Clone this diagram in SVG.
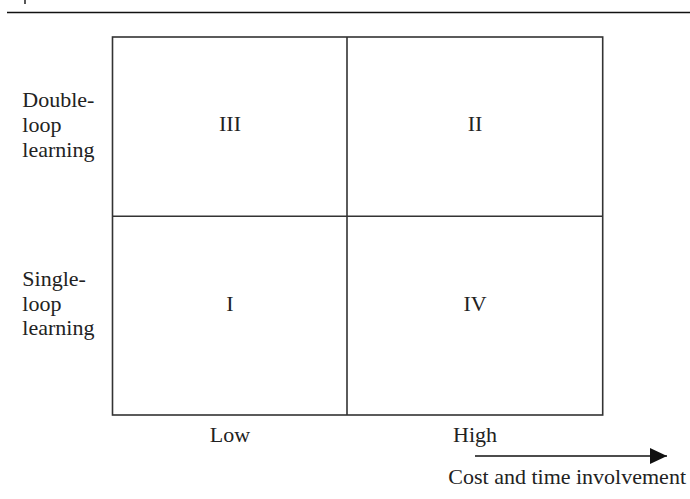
<svg xmlns="http://www.w3.org/2000/svg" width="690" height="499" viewBox="0 0 690 499">
<style>
.t{font-family:"Liberation Serif","Times New Roman",serif;font-size:22px;fill:#222}
.c{text-anchor:middle}
.ln{stroke:#333;stroke-width:1.6;fill:none}
</style>
<defs>
<marker id="ah" viewBox="0 0 17 16" refX="17" refY="8" markerWidth="17" markerHeight="16" markerUnits="userSpaceOnUse" orient="auto">
<path d="M0,0 L17,8 L0,16 Z" fill="#111"/>
</marker>
</defs>
<rect width="690" height="499" fill="#fff"/>
<line x1="7" y1="12.5" x2="690" y2="12.5" stroke="#111" stroke-width="1.4"/>
<line x1="25" y1="0" x2="25" y2="4" stroke="#111" stroke-width="1.4"/>
<g id="grid">
<rect class="ln" x="112.5" y="37" width="490.2" height="378"/>
</g>
<g id="connectors">
<line class="ln" x1="347" y1="37" x2="347" y2="415"/>
<line class="ln" x1="112.5" y1="216.3" x2="602.7" y2="216.3"/>
<line x1="475" y1="456" x2="667" y2="456" stroke="#111" stroke-width="1.6" marker-end="url(#ah)"/>
</g>
<g id="q3"><text class="t c" x="230" y="131">III</text></g>
<g id="q2"><text class="t c" x="475" y="131">II</text></g>
<g id="q1"><text class="t c" x="230" y="310.7">I</text></g>
<g id="q4"><text class="t c" x="475" y="310.7">IV</text></g>
<g id="double">
<text class="t" x="22.3" y="106.7">Double-</text>
<text class="t" x="22.3" y="131.7">loop</text>
<text class="t" x="22.3" y="156.7">learning</text>
</g>
<g id="single">
<text class="t" x="22.3" y="286">Single-</text>
<text class="t" x="22.3" y="310.5">loop</text>
<text class="t" x="22.3" y="335">learning</text>
</g>
<g id="low"><text class="t c" x="230" y="441.7">Low</text></g>
<g id="high"><text class="t c" x="475" y="441.7">High</text></g>
<g id="axis"><text class="t" x="448.3" y="484">Cost and time involvement</text></g>
</svg>
